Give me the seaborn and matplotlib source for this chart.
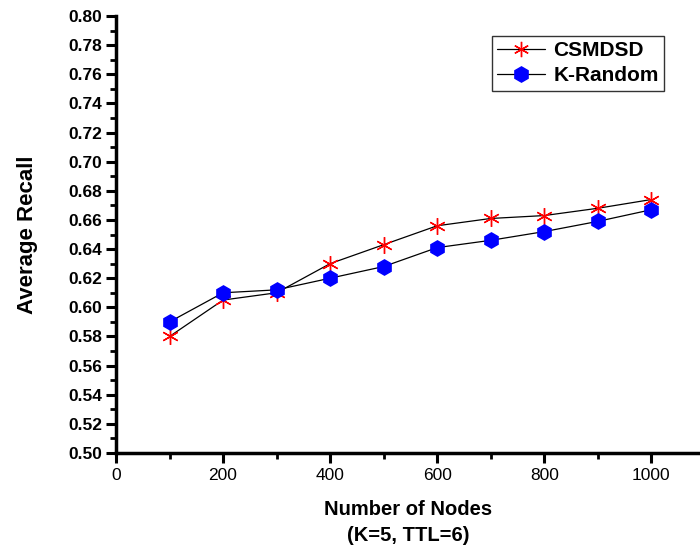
import matplotlib
matplotlib.use("Agg")
import matplotlib.pyplot as plt
from matplotlib.ticker import MultipleLocator, FormatStrFormatter
from matplotlib.lines import Line2D
import seaborn as sns
import pandas as pd

nodes = [100, 200, 300, 400, 500, 600, 700, 800, 900, 1000]
csmdsd = [0.580, 0.605, 0.610, 0.630, 0.643, 0.656, 0.661, 0.663, 0.668, 0.674]
krandom = [0.590, 0.610, 0.612, 0.620, 0.628, 0.641, 0.646, 0.652, 0.659, 0.667]
series_names = ["CSMDSD", "K-Random"]

df_c = pd.DataFrame({"nodes": nodes, "recall": csmdsd})
df_k = pd.DataFrame({"nodes": nodes, "recall": krandom})

sns.set_style("ticks")
plt.rcParams["font.family"] = ["Liberation Sans", "DejaVu Sans"]
plt.rcParams["text.color"] = "black"
plt.rcParams["axes.labelcolor"] = "black"
plt.rcParams["xtick.color"] = "black"
plt.rcParams["ytick.color"] = "black"

fig = plt.figure(figsize=(7.0, 5.47), dpi=100)
ax = fig.add_axes([116 / 700, 94 / 547, (700 - 116) / 700, (453 - 16) / 547])

sns.lineplot(data=df_c, x="nodes", y="recall", color="black", linewidth=0.9,
             marker=(6, 2, 0), markersize=12, markerfacecolor="red",
             markeredgecolor="red", markeredgewidth=1.0, ax=ax, legend=False)
sns.lineplot(data=df_k, x="nodes", y="recall", color="black", linewidth=0.9,
             marker="h", markersize=11, markerfacecolor="blue",
             markeredgecolor="blue", markeredgewidth=1.0, ax=ax, legend=False)

ax.set_xlim(0, 1091)
ax.set_ylim(0.50, 0.80)
ax.xaxis.set_major_locator(MultipleLocator(200))
ax.xaxis.set_minor_locator(MultipleLocator(100))
ax.yaxis.set_major_locator(MultipleLocator(0.02))
ax.yaxis.set_minor_locator(MultipleLocator(0.01))
ax.yaxis.set_major_formatter(FormatStrFormatter("%.2f"))

for s in ["top", "right"]:
    ax.spines[s].set_visible(False)
for s in ["left", "bottom"]:
    ax.spines[s].set_linewidth(2.5)
    ax.spines[s].set_color("black")

ax.tick_params(axis="both", which="major", direction="out", length=7, width=2.2,
               color="black", labelcolor="black")
ax.tick_params(axis="both", which="minor", direction="out", length=4, width=2.0, color="black")
ax.tick_params(axis="y", labelsize=12.5, pad=3)
ax.tick_params(axis="x", labelsize=12.5, pad=4)
for t in ax.get_yticklabels():
    t.set_fontweight("bold")

ax.set_xlabel("Number of Nodes\n(K=5, TTL=6)", fontsize=14.5, fontweight="bold",
              labelpad=12, linespacing=1.45, color="black")
ax.set_ylabel("Average Recall", fontsize=16, fontweight="bold", labelpad=22, color="black")

handles = [
    Line2D([], [], color="black", linewidth=0.9, marker=(6, 2, 0), markersize=11,
           markerfacecolor="red", markeredgecolor="red"),
    Line2D([], [], color="black", linewidth=0.9, marker="h", markersize=11,
           markerfacecolor="blue", markeredgecolor="blue"),
]
leg = ax.legend(handles, series_names, loc="upper right", bbox_to_anchor=(664 / 700, 1 - 36 / 547),
                bbox_transform=fig.transFigure, frameon=True, fancybox=False,
                prop={"weight": "bold", "size": 15}, handlelength=2.3, handletextpad=0.4,
                borderpad=0.25, labelspacing=0.3, borderaxespad=0)
leg.get_frame().set_edgecolor("black")
leg.get_frame().set_linewidth(1.0)
for t in leg.get_texts():
    t.set_color("black")

fig.savefig("out.png", dpi=100)
